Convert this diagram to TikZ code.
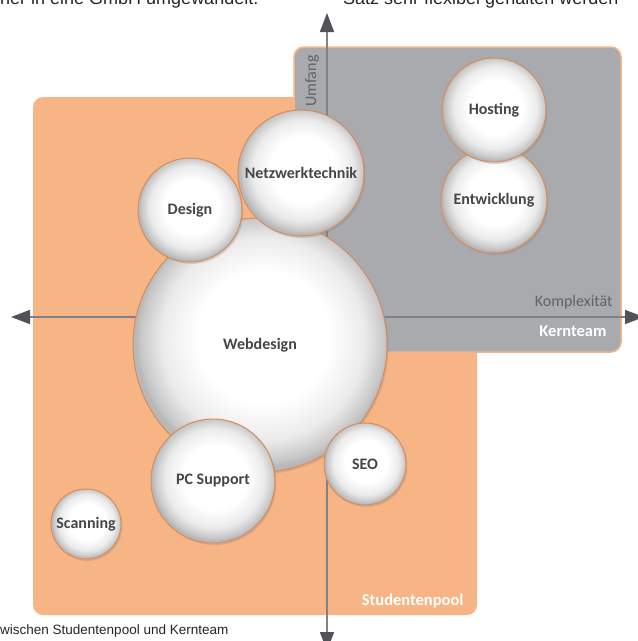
\documentclass[tikz,border=0pt]{standalone}
\usepackage{fontspec}
\setmainfont{Carlito}
\newfontfamily\pagefont{Liberation Sans}
\usetikzlibrary{arrows.meta,shadows}
\definecolor{poolorange}{HTML}{F7B585}
\definecolor{kerngray}{HTML}{A9AAAD}
\definecolor{bubbleedge}{HTML}{D68C5C}
\definecolor{labelgray}{HTML}{45464A}
\definecolor{axisgray}{HTML}{808185}
\definecolor{axishead}{HTML}{525357}
\pgfdeclareradialshading{bubbleshade}{\pgfpoint{1bp}{2bp}}{color(0bp)=(white); color(13bp)=(white); color(20bp)=(black!8); color(24bp)=(black!22); color(25bp)=(black!28); color(50bp)=(black!28)}
\tikzset{
	bubble/.style={circle, draw=bubbleedge, line width=1pt, shading=bubbleshade, inner sep=0pt, text=labelgray, font=\fontsize{16}{19}\selectfont\bfseries, drop shadow={shadow xshift=1.5pt, shadow yshift=-2pt, opacity=0.25}},
	axis/.style={line width=1.5pt, draw=axisgray, >={Triangle[length=19pt,width=14pt,color=axishead]}, <->},
	teamlabel/.style={anchor=east, text=white, font=\fontsize{16.5}{19}\selectfont\bfseries},
	axislabel/.style={text=labelgray!85, font=\fontsize{16}{19}\selectfont},
	pagetext/.style={text=black!85, inner sep=0pt, font=\pagefont\fontsize{18}{20}\selectfont}
}

\begin{document}
\begin{tikzpicture}[x=1pt,y=-1pt]
		%%%%% START %%%%%
		\useasboundingbox (0,0) rectangle (638,641);
		\fill[white] (0,0) rectangle (638,641);
		
		% page text round the figure
		\node[pagetext, anchor=base west] (pageleft) at (0,4) {ner in eine GmbH umgewandelt.};
		\node[pagetext, anchor=base west] (pageright) at (343,4) {Satz sehr flexibel gehalten werden};
		\node[pagetext, anchor=west, font=\pagefont\fontsize{13.5}{16}\selectfont] (caption) at (0,631) {wischen Studentenpool und Kernteam};
		
		% pools
		\fill[poolorange, rounded corners=10pt] (33,97) rectangle (477,615);
		\draw[poolorange, fill=kerngray, line width=1.5pt, rounded corners=10pt] (294,47) rectangle (621,352);
		
		% axes
		\coordinate (umfangtop) at (327,13);
		\coordinate (umfangbot) at (327,651);
		\coordinate (komplleft) at (11,317);
		\coordinate (komplright) at (644,317);
		\draw[axis] (umfangtop) -- (umfangbot);
		\draw[axis] (komplleft) -- (komplright);
		
		\node[axislabel, rotate=90] (umfang) at (312,81) {Umfang};
		\node[axislabel, anchor=east] (komplex) at (616,302) {Komplexität};
		\node[teamlabel] (kernteam) at (610,331) {Kernteam};
		\node[teamlabel] (studpool) at (467,601) {Studentenpool};
		
		% bubbles
		\node[bubble, minimum size=254pt] (webdesign) at (260,345) {Webdesign};
		\node[bubble, minimum size=104pt] (design) at (190,210) {Design};
		\node[bubble, minimum size=126pt] (netzwerk) at (301,173) {Netzwerktechnik};
		\node[bubble, minimum size=124pt] (pcsupport) at (213,481) {PC Support};
		\node[bubble, minimum size=82pt] (seo) at (365,464) {SEO};
		\node[bubble, minimum size=70pt] (scanning) at (86,524) {Scanning};
		\node[bubble, minimum size=106pt] (entwicklung) at (494,200) {Entwicklung};
		\node[bubble, minimum size=104pt] (hosting) at (494,110) {Hosting};
		
		%%%%% END %%%%%
	\end{tikzpicture}
\end{document}
